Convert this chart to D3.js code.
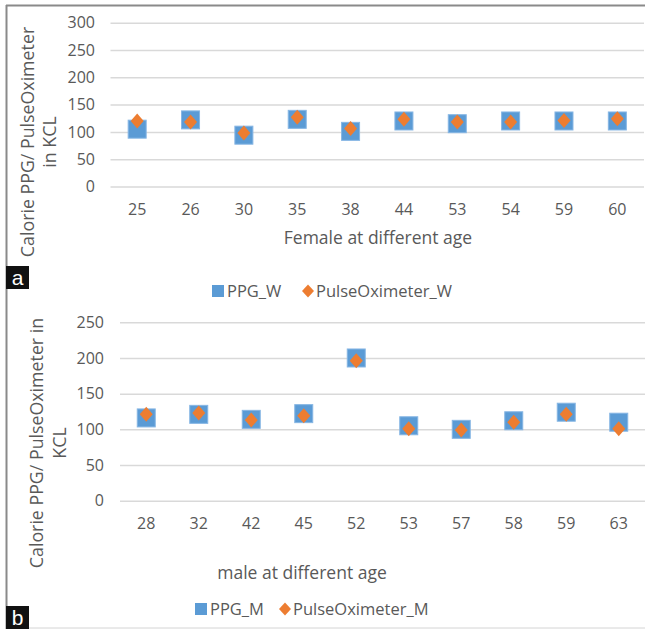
<!DOCTYPE html>
<html><head><meta charset="utf-8">
<script src="https://cdn.jsdelivr.net/npm/d3@7"></script>
<style>
html,body{margin:0;padding:0;background:#fff;}
svg{display:block;font-family:"Open Sans",sans-serif;}
</style></head>
<body>
<svg id="chart" width="645" height="629"></svg>
<script>
const femaleAges = ["25","26","30","35","38","44","53","54","59","60"];
const ppgW = [105, 122, 94, 123, 101, 120, 115, 120, 120, 120];
const pulseW = [120, 118, 98, 127, 106, 123, 118, 118, 121, 124];
const femaleTicks = [0, 50, 100, 150, 200, 250, 300];

const maleAges = ["28","32","42","45","52","53","57","58","59","63"];
const ppgM = [116, 121, 114, 122, 200, 105, 100, 112, 124, 110];
const pulseM = [121, 123, 113, 119, 196, 101, 99, 110, 121, 101];
const maleTicks = [0, 50, 100, 150, 200, 250];

const BLUE = "#5B9BD5", ORANGE = "#ED7D31", TXT = "#595959", GRID = "#D9D9D9";
const svg = d3.select("#chart");

// frame
svg.append("line").attr("x1",6).attr("x2",645).attr("y1",5.5).attr("y2",5.5).attr("stroke","#8a8a8a").attr("stroke-width",2);
svg.append("line").attr("x1",6.5).attr("x2",6.5).attr("y1",5).attr("y2",629).attr("stroke","#8a8a8a").attr("stroke-width",2);
svg.append("line").attr("x1",6).attr("x2",645).attr("y1",628).attr("y2",628).attr("stroke","#d4d4d4").attr("stroke-width",1);

function diamond(w,h){ return `M0,${-h/2}L${w/2},0L0,${h/2}L${-w/2},0Z`; }

function panel(cfg){
  const g = svg.append("g");
  const x = d3.scaleBand().domain(cfg.cats).range(cfg.xr);
  const y = d3.scaleLinear().domain([0, d3.max(cfg.ticks)]).range(cfg.yr);

  const ya = d3.axisLeft(y).tickValues(cfg.ticks).tickSize(-(cfg.xr[1]-cfg.xr[0])).tickPadding(cfg.xr[0]-cfg.tickRight);
  const yg = g.append("g").attr("transform",`translate(${cfg.xr[0]},0)`).call(ya);
  yg.select(".domain").remove();
  yg.selectAll(".tick line").attr("stroke",GRID).attr("stroke-width",1.5);
  yg.selectAll(".tick text").attr("fill",TXT).attr("font-size",16).attr("font-family","Open Sans");

  const xa = d3.axisBottom(x).tickSize(0).tickPadding(0);
  const xg = g.append("g").attr("transform",`translate(0,${cfg.xLabelY})`).call(xa);
  xg.select(".domain").remove();
  xg.selectAll(".tick text").attr("fill",TXT).attr("font-size",16).attr("font-family","Open Sans").attr("dy","0.35em");

  const cx = d => x(d) + x.bandwidth()/2;
  g.selectAll(".sq").data(cfg.cats.map((c,i)=>({c,v:cfg.s1[i]}))).join("rect")
    .attr("x",d=>cx(d.c)-9).attr("y",d=>y(d.v)-9).attr("width",18).attr("height",18)
    .attr("fill",BLUE).attr("stroke","#86B6E4").attr("stroke-width",1);
  g.selectAll(".dm").data(cfg.cats.map((c,i)=>({c,v:cfg.s2[i]}))).join("path")
    .attr("d",diamond(13,15)).attr("transform",d=>`translate(${cx(d.c)},${y(d.v)})`)
    .attr("fill",ORANGE);

  g.append("text").attr("x",cfg.xTitle[0]).attr("y",cfg.xTitle[1]).attr("text-anchor","middle")
    .attr("dy","0.35em").attr("fill",TXT).attr("font-size",17.5).text(cfg.xTitleText);

  cfg.yTitle.forEach(t=>{
    g.append("text").attr("transform",`translate(${t.x},${cfg.yTitleY}) rotate(-90)`)
      .attr("text-anchor","middle").attr("dy","0.35em").attr("fill",TXT).attr("font-size",17.8).text(t.text);
  });

  // legend
  const L = cfg.legend;
  g.append("rect").attr("x",L.sqX).attr("y",L.y-6).attr("width",12).attr("height",12).attr("fill",BLUE);
  g.append("text").attr("x",L.sqX+15).attr("y",L.y).attr("dy","0.35em").attr("fill",TXT).attr("font-size",16.5).text(L.t1);
  g.append("path").attr("d",diamond(12,13)).attr("transform",`translate(${L.dmX},${L.y})`).attr("fill",ORANGE);
  g.append("text").attr("x",L.dmX+8).attr("y",L.y).attr("dy","0.35em").attr("fill",TXT).attr("font-size",16.5).text(L.t2);

  // panel letter
  g.append("rect").attr("x",6).attr("y",cfg.letterY).attr("width",23).attr("height",23).attr("fill","#111");
  g.append("text").attr("x",17.5).attr("y",cfg.letterY+11.5).attr("dy","0.35em").attr("text-anchor","middle")
    .attr("fill","#fff").attr("font-size",21).attr("font-family","Liberation Sans, Arial").text(cfg.letter);
}

panel({
  cats: femaleAges, s1: ppgW, s2: pulseW, ticks: femaleTicks,
  xr: [110.5, 644], yr: [186.5, 22.7], tickRight: 95, xLabelY: 209,
  xTitle: [378, 238], xTitleText: "Female at different age",
  yTitleY: 142, yTitle: [{x:28, text:"Calorie PPG/ PulseOximeter"},{x:50, text:"in KCL"}],
  legend: {sqX: 212, dmX: 308, y: 291, t1: "PPG_W", t2: "PulseOximeter_W"},
  letterY: 266, letter: "a"
});

panel({
  cats: maleAges, s1: ppgM, s2: pulseM, ticks: maleTicks,
  xr: [120, 645], yr: [500.7, 322.3], tickRight: 104, xLabelY: 523,
  xTitle: [302, 573], xTitleText: "male at different age",
  yTitleY: 443, yTitle: [{x:37, text:"Calorie PPG/ PulseOximeter in"},{x:60, text:"KCL"}],
  legend: {sqX: 195, dmX: 285, y: 609, t1: "PPG_M", t2: "PulseOximeter_M"},
  letterY: 606, letter: "b"
});
</script>
</body></html>
